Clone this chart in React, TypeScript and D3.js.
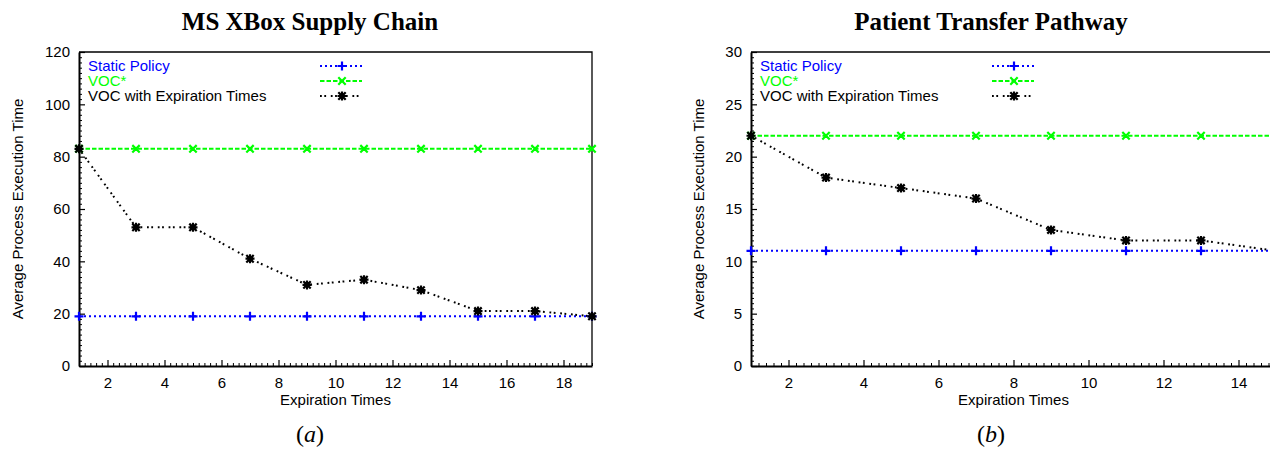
import React from 'react';
import * as d3 from 'd3';

// MS XBox supply chain (panel a)
const xboxExpiration = [1, 3, 5, 7, 9, 11, 13, 15, 17, 19];
const xboxStatic = [19, 19, 19, 19, 19, 19, 19, 19, 19, 19];
const xboxVoc = [83, 83, 83, 83, 83, 83, 83, 83, 83, 83];
const xboxVocExp = [83, 53, 53, 41, 31, 33, 29, 21, 21, 19];

// Patient transfer pathway (panel b)
const patientExpiration = [1, 3, 5, 7, 9, 11, 13, 15];
const patientStatic = [11, 11, 11, 11, 11, 11, 11, 11];
const patientVoc = [22, 22, 22, 22, 22, 22, 22, 22];
const patientVocExp = [22, 18, 17, 16, 13, 12, 12, 11];

const seriesNames = ['Static Policy', 'VOC*', 'VOC with Expiration Times'];
const seriesColors = ['#0000ff', '#00ff00', '#000000'];
const seriesDash = ['2,3', '4.5,2', '1.8,2.5,1.8,4.7'];
const seriesMarker = ['plus', 'cross', 'star'];

const sans = '"Liberation Sans", Arial, sans-serif';
const serif = '"Liberation Serif", "Times New Roman", serif';

const top = 52, bottom = 366;

function markerPath(type: string, x: number, y: number) {
    const s = 4.5;
    const plus = `M${x - s},${y}h${2 * s}M${x},${y - s}v${2 * s}`;
    const c = 3.7;
    const cross = `M${x - c},${y - c}l${2 * c},${2 * c}M${x - c},${y + c}l${2 * c},${-2 * c}`;
    if (type === 'plus') return plus;
    if (type === 'cross') return cross;
    return plus + cross;
}

type PanelProps = {
    title: string, caption: string,
    xs: number[], series: number[][],
    xMax: number, yMax: number, yStep: number,
    left: number, right: number,
    titleX: number, yLabelX: number
};

function Panel(props: PanelProps) {
    const ref = React.useRef<SVGGElement>(null);
    const { title, caption, xs, series, xMax, yMax, yStep, left, right, titleX, yLabelX } = props;

    React.useEffect(() => {
        if (!ref.current) return;
        const g = d3.select(ref.current);
        g.selectAll('*').remove();

        const x = d3.scaleLinear().domain([1, xMax]).range([left, right]);
        const y = d3.scaleLinear().domain([0, yMax]).range([bottom, top]);

        // frame (top + right)
        g.append('path')
            .attr('d', `M${left},${top}H${right}V${bottom}`)
            .attr('fill', 'none').attr('stroke', '#000').attr('stroke-width', 1.3);

        const xMajor = d3.range(2, xMax + 0.001, 2);
        const xMinor = d3.range(1, xMax + 0.001, 0.2).filter(v => Math.abs(v / 2 - Math.round(v / 2)) > 0.01);
        const yMajor = d3.range(0, yMax + 0.001, yStep);
        const yMinor = d3.range(0, yMax + 0.001, yStep / 10).filter(v => Math.abs(v / yStep - Math.round(v / yStep)) > 0.01);

        g.append('g')
            .attr('transform', `translate(0,${bottom})`)
            .call(d3.axisBottom(x).tickValues(xMinor).tickSize(-3).tickFormat(() => ''))
            .call(a => a.select('.domain').remove());
        g.append('g')
            .attr('transform', `translate(${left},0)`)
            .call(d3.axisLeft(y).tickValues(yMinor).tickSize(-3).tickFormat(() => ''))
            .call(a => a.select('.domain').remove());

        const xAxis = g.append('g')
            .attr('transform', `translate(0,${bottom})`)
            .call(d3.axisBottom(x).tickValues(xMajor).tickSize(-6).tickSizeOuter(0).tickPadding(11).tickFormat(d3.format('d')));
        const yAxis = g.append('g')
            .attr('transform', `translate(${left},0)`)
            .call(d3.axisLeft(y).tickValues(yMajor).tickSize(-6).tickSizeOuter(0).tickPadding(9).tickFormat(d3.format('d')));

        [xAxis, yAxis].forEach(a => {
            a.selectAll('text').attr('font-family', sans).attr('font-size', 15).attr('fill', '#000');
            a.select('.domain').attr('stroke-width', 2);
            a.selectAll('.tick line').attr('stroke-width', 1.2);
        });
        g.selectAll('.tick line').attr('stroke', '#000');

        // series
        const line = d3.line<number>().x((d, i) => x(xs[i])).y(d => y(d));
        series.forEach((vals, si) => {
            g.append('path')
                .attr('d', line(vals))
                .attr('fill', 'none')
                .attr('stroke', seriesColors[si])
                .attr('stroke-width', 2)
                .attr('stroke-dasharray', seriesDash[si]);
        });
        series.forEach((vals, si) => {
            g.append('path')
                .attr('d', vals.map((v, i) => markerPath(seriesMarker[si], x(xs[i]), y(v))).join(''))
                .attr('fill', 'none')
                .attr('stroke', seriesColors[si])
                .attr('stroke-width', 2.2);
        });

        // legend
        seriesNames.forEach((name, si) => {
            const ly = 66 + si * 15;
            g.append('text')
                .attr('x', left + 9).attr('y', ly).attr('dy', '0.35em')
                .attr('font-family', sans).attr('font-size', 15)
                .attr('fill', seriesColors[si])
                .text(name);
            g.append('path')
                .attr('d', `M${left + 241},${ly}H${left + 283}`)
                .attr('stroke', seriesColors[si]).attr('stroke-width', 2)
                .attr('stroke-dasharray', seriesDash[si]);
            g.append('path')
                .attr('d', markerPath(seriesMarker[si], left + 263, ly))
                .attr('fill', 'none').attr('stroke', seriesColors[si]).attr('stroke-width', 2.2);
        });

        g.append('text')
            .attr('x', titleX).attr('y', 30).attr('text-anchor', 'middle')
            .attr('font-family', serif).attr('font-weight', 'bold').attr('font-size', 25)
            .text(title);
        g.append('text')
            .attr('transform', `translate(${yLabelX},${(top + bottom) / 2}) rotate(-90)`)
            .attr('text-anchor', 'middle').attr('dy', '0.35em')
            .attr('font-family', sans).attr('font-size', 15)
            .text('Average Process Execution Time');
        g.append('text')
            .attr('x', (left + right) / 2).attr('y', 405).attr('text-anchor', 'middle')
            .attr('font-family', sans).attr('font-size', 15)
            .text('Expiration Times');

        // caption: upright parentheses, italic letter
        const cap = g.append('text')
            .attr('x', titleX).attr('y', 442).attr('text-anchor', 'middle')
            .attr('font-family', serif).attr('font-size', 24);
        cap.append('tspan').text('(');
        cap.append('tspan').attr('font-style', 'italic').text(caption);
        cap.append('tspan').text(')');
    }, [props]);

    return <g ref={ref} />;
}

export default function App() {
    return <div>
        <svg width={1270} height={449} style={{ position: 'absolute', left: 0, top: 0, background: '#fff' }}>
            <Panel title="MS XBox Supply Chain" caption="a"
                xs={xboxExpiration} series={[xboxStatic, xboxVoc, xboxVocExp]}
                xMax={19} yMax={120} yStep={20}
                left={79} right={592} titleX={310} yLabelX={18} />
            <Panel title="Patient Transfer Pathway" caption="b"
                xs={patientExpiration} series={[patientStatic, patientVoc, patientVocExp]}
                xMax={15} yMax={30} yStep={5}
                left={751} right={1276} titleX={991} yLabelX={699} />
        </svg>
    </div>
}
